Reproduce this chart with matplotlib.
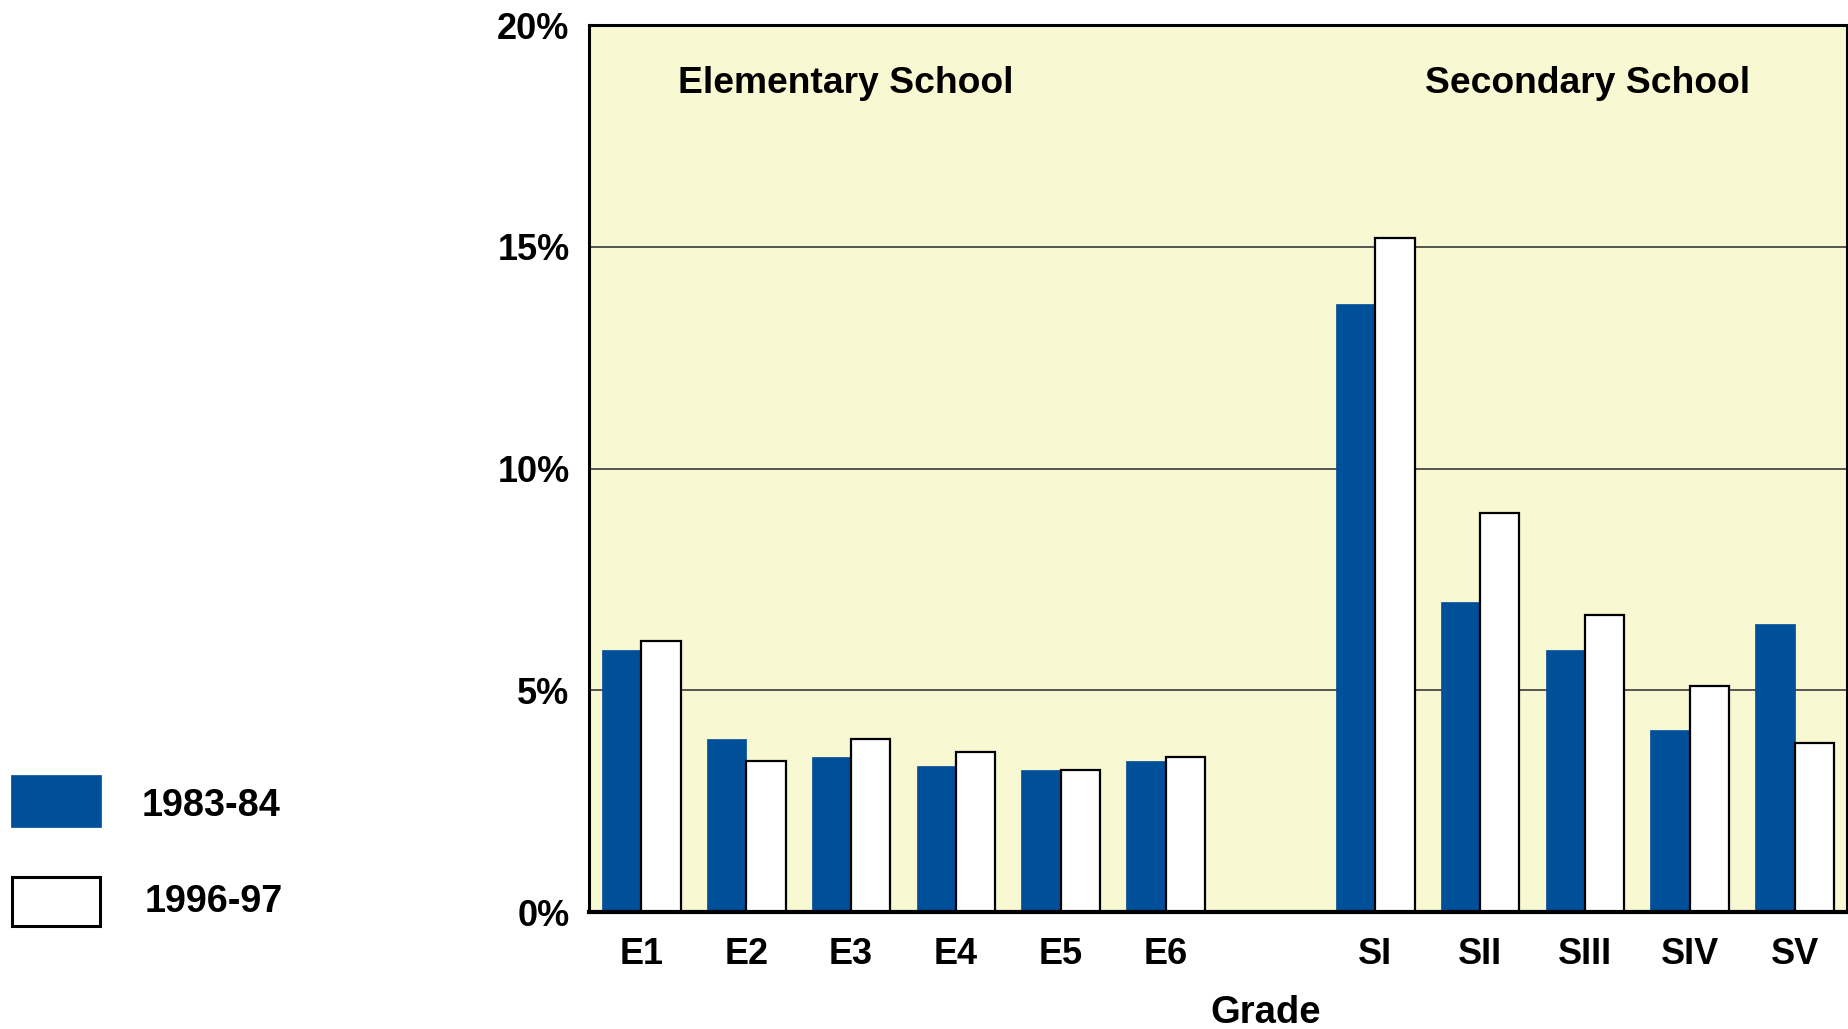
import matplotlib
matplotlib.use("Agg")
import matplotlib.pyplot as plt
from matplotlib.patches import Rectangle
import numpy as np

plt.rcParams['font.family'] = ['Liberation Sans', 'DejaVu Sans']
plt.rcParams['font.weight'] = 'bold'

grades = ["E1", "E2", "E3", "E4", "E5", "E6", "SI", "SII", "SIII", "SIV", "SV"]
positions = [0, 1, 2, 3, 4, 5, 7, 8, 9, 10, 11]
series_labels = ["1983-84", "1996-97"]
share_1983 = [5.9, 3.9, 3.5, 3.3, 3.2, 3.4, 13.7, 7.0, 5.9, 4.1, 6.5]
share_1996 = [6.1, 3.4, 3.9, 3.6, 3.2, 3.5, 15.2, 9.0, 6.7, 5.1, 3.8]
y_ticks = [0, 5, 10, 15, 20]
group_labels = ["Elementary School", "Secondary School"]

BLUE = "#004F99"
PANEL = "#F8F8D2"
FS = 26

fig = plt.figure(figsize=(18.48, 10.29), dpi=100)
ax = fig.add_axes([0.3187, 0.1137, 0.6808, 0.862])
ax.set_facecolor(PANEL)

x = np.array(positions, dtype=float)
w = 0.375
ax.bar(x - w / 2, share_1983, width=w, color=BLUE, edgecolor=BLUE, linewidth=0.5, zorder=3)
ax.bar(x + w / 2, share_1996, width=w, color="white", edgecolor="black", linewidth=1.6, zorder=3)

ax.set_xlim(-0.5, 11.5)
ax.set_ylim(0, 20)
ax.set_yticks(y_ticks)
ax.set_yticklabels([f"{t}%" for t in y_ticks], fontsize=FS, fontweight='bold')
ax.set_xticks(positions)
ax.set_xticklabels(grades, fontsize=FS, fontweight='bold')
ax.tick_params(axis='y', length=0, pad=14)
ax.tick_params(axis='x', length=0, pad=18)

for t in y_ticks[1:-1]:
    ax.axhline(t, color="#3a3a3a", linewidth=1.2, zorder=1)

for side in ["left", "top", "right"]:
    ax.spines[side].set_linewidth(2.2)
    ax.spines[side].set_color("black")
ax.spines["bottom"].set_linewidth(3.0)
ax.spines["bottom"].set_zorder(5)

ax.set_xlabel("Grade", fontsize=27.5, fontweight='bold')
ax.xaxis.set_label_coords(0.538, -0.094)

ax.text(1.95, 18.68, group_labels[0], fontsize=26.8, fontweight='bold', ha='center', va='center')
ax.text(9.02, 18.68, group_labels[1], fontsize=26.8, fontweight='bold', ha='center', va='center')

# Legend drawn by hand at the lower left of the figure
fig.add_artist(Rectangle((11 / 1848, 1 - 827 / 1029), 90 / 1848, 52 / 1029,
                         transform=fig.transFigure, facecolor=BLUE, edgecolor=BLUE, linewidth=0.5))
fig.add_artist(Rectangle((12 / 1848, 1 - 926 / 1029), 88 / 1848, 49 / 1029,
                         transform=fig.transFigure, facecolor="white", edgecolor="black", linewidth=2.2))
fig.text(142 / 1848, 1 - 806.5 / 1029, series_labels[0], fontsize=27.2, fontweight='bold', ha='left', va='center')
fig.text(145 / 1848, 1 - 902.5 / 1029, series_labels[1], fontsize=27.2, fontweight='bold', ha='left', va='center')

fig.savefig("out.png", dpi=100, facecolor="white")
